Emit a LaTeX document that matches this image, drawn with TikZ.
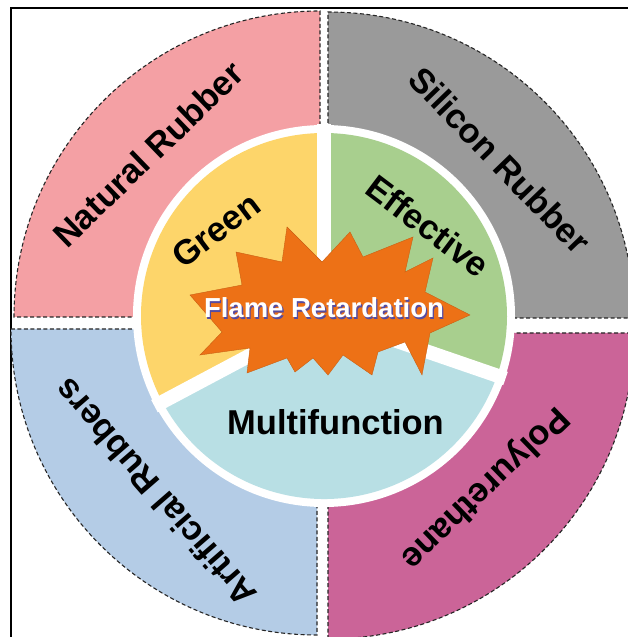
\documentclass[tikz,border=0pt]{standalone}
\usepackage{fontspec}
\setmainfont{Liberation Sans}
\definecolor{pinkq}{RGB}{244,160,164}
\definecolor{greyq}{RGB}{154,154,154}
\definecolor{blueq}{RGB}{180,204,230}
\definecolor{magq}{RGB}{203,100,152}
\definecolor{yelq}{RGB}{253,213,106}
\definecolor{grnq}{RGB}{168,207,142}
\definecolor{cynq}{RGB}{184,223,228}
\definecolor{orngq}{RGB}{237,113,22}
\definecolor{shadq}{RGB}{85,75,160}
\tikzset{
  quad/.style={draw=black!85, line width=1.1pt, dash pattern=on 4pt off 2.5pt},
  lab/.style={font=\bfseries\fontsize{34.5}{34.5}\selectfont, inner sep=0pt, text depth=0pt, text=black},
  flamelab/.style={font=\bfseries\fontsize{27.5}{27.5}\selectfont, inner sep=0pt, anchor=base},
  divider/.style={white, line width=14pt}
}
\begin{document}
\begin{tikzpicture}[x=1pt,y=1pt]
\useasboundingbox (0,0) rectangle (628,637);
\begin{scope}
\clip (0,0) rectangle (628,637);
% frame
\draw[line width=1.5pt] (11,-20) rectangle (660,629);
% outer quadrants
\draw[quad, fill=pinkq] (320,320) -- ++(180:306) arc[start angle=180, end angle=90, radius=306] -- cycle;
\draw[quad, fill=greyq] (328,319) -- ++(90:306) arc[start angle=90, end angle=0, radius=306] -- cycle;
\draw[quad, fill=blueq] (317,308) -- ++(270:306) arc[start angle=270, end angle=180, radius=306] -- cycle;
\draw[quad, fill=magq] (328,304) -- ++(0:306) arc[start angle=0, end angle=-90, radius=306] -- cycle;
% inner disk
\coordinate (c) at (324,321);
\fill[white] (c) circle[radius=191];
\fill[yelq] (c) -- ++(90:183) arc[start angle=90, end angle=208, radius=183] -- cycle;
\fill[cynq] (c) -- ++(208:183) arc[start angle=208, end angle=341, radius=183] -- cycle;
\fill[grnq] (c) -- ++(-19:183) arc[start angle=-19, end angle=90, radius=183] -- cycle;
\draw[divider] (c) -- ++(90:192);
\draw[divider] (c) -- ++(208:192);
\draw[divider] (c) -- ++(-19:192);
% flame star
\fill[orngq, draw=orngq!85!black, line width=0.4pt]
 (190,342) -- (242,352) -- (236,385) -- (282,375) -- (287,410) -- (322,375)
 -- (350,405) -- (363,380) -- (413,400) -- (405,365) -- (433,379) -- (425,345)
 -- (470,322) -- (430,304) -- (422,262) -- (405,295) -- (378,285) -- (372,262)
 -- (343,282) -- (328,262) -- (313,279) -- (295,265) -- (287,279) -- (247,264)
 -- (250,289) -- (200,282) -- (222,305) -- cycle;
\end{scope}
% labels
\node[lab, rotate=44] (nr) at (148,483) {Natural Rubber};
\node[lab, rotate=-46] (sr) at (500,477) {Silicon Rubber};
\node[lab, rotate=131] (ar) at (155,144) {Artificial Rubbers};
\node[lab, rotate=224] (pu) at (487,147) {Polyurethane};
\node[lab, rotate=37] (gr) at (216,407) {Green};
\node[lab, rotate=-37] (ef) at (428,411) {Effective};
\node[lab, anchor=base] (mf) at (335.5,202) {Multifunction};
\node[flamelab, text=shadq] (frs) at (325.3,317.7) {Flame Retardation};
\node[flamelab, text=white] (fr) at (324,319) {Flame Retardation};
\end{tikzpicture}
\end{document}
